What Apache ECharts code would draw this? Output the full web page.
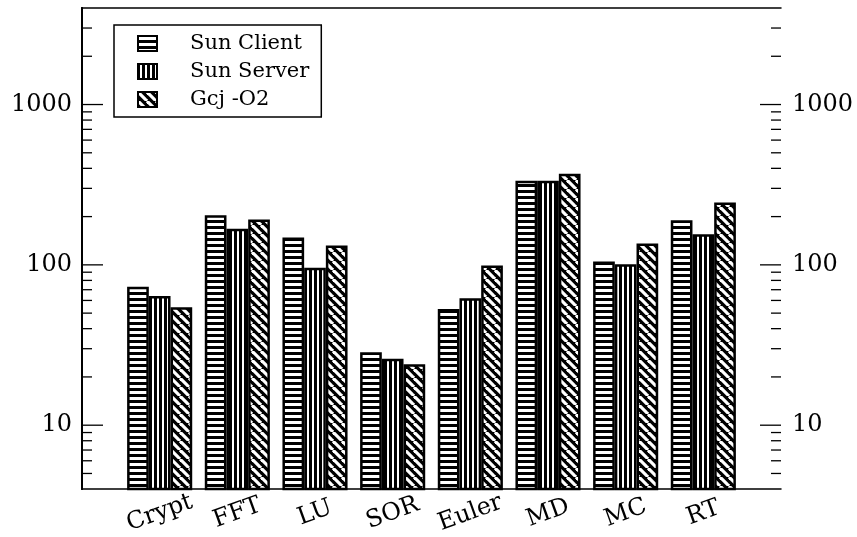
<!DOCTYPE html>
<html>
<head>
<meta charset="utf-8">
<script src="https://cdn.jsdelivr.net/npm/echarts@6/dist/echarts.min.js"></script>
<style>html,body{margin:0;padding:0;background:#fff;}#c{width:857px;height:537px;}</style>
</head>
<body>
<div id="c"></div>
<script>
// ---- data ----
const categories = ['Crypt', 'FFT', 'LU', 'SOR', 'Euler', 'MD', 'MC', 'RT'];
const sunClient = [73, 204, 148, 28.5, 53, 335, 105, 190];
const sunServer = [64, 168, 96, 26, 62, 335, 101, 155];
const gcjO2 = [54.5, 192, 132, 24, 99, 370, 136, 245];
const seriesNames = ['Sun Client', 'Sun Server', 'Gcj -O2'];
const majorTicks = [10, 100, 1000];
const minorTicks = [5, 6, 7, 8, 9, 20, 30, 40, 50, 60, 70, 80, 90, 200, 300, 400, 500, 600, 700, 800, 900, 2000, 3000];
const yLabels = ['10', '100', '1000'];

// ---- patterns ----
function pattern(kind) {
  const c = document.createElement('canvas');
  const ctx = c.getContext('2d');
  if (kind === 'h') {
    c.width = 6; c.height = 6;
    ctx.fillStyle = '#000'; ctx.fillRect(0, 0, 6, 6);
    ctx.fillStyle = '#fff'; ctx.fillRect(0, 1, 6, 3);
  } else if (kind === 'v') {
    c.width = 5; c.height = 5;
    ctx.fillStyle = '#000'; ctx.fillRect(0, 0, 5, 5);
    ctx.fillStyle = '#fff'; ctx.fillRect(2, 0, 2, 5);
  } else {
    c.width = 9; c.height = 9;
    ctx.fillStyle = '#000'; ctx.fillRect(0, 0, 9, 9);
    ctx.strokeStyle = '#fff'; ctx.lineWidth = 3.2;
    for (let k = -1; k <= 1; k++) {
      ctx.beginPath(); ctx.moveTo(k * 9, 0); ctx.lineTo(k * 9 + 9, 9); ctx.stroke();
    }
  }
  return { image: c, repeat: 'repeat' };
}

const FONT = 'DejaVu Serif';
const gridLeft = 82, gridTop = 8, gridW = 699, gridH = 481;
const slot = gridW / 9;

const tickData = majorTicks.map(v => [0, v, 1]).concat(minorTicks.map(v => [0, v, 0]));

const chart = echarts.init(document.getElementById('c'), null, { renderer: 'canvas' });
const barCommon = {
  type: 'bar', xAxisIndex: 2, yAxisIndex: 2, barWidth: 21.7, barGap: '0%',
  silent: true, clip: true
};
const yLabelFmt = v => { const s = String(Math.round(v)); return yLabels.indexOf(s) >= 0 ? s : ''; };
chart.setOption({
  animation: false,
  backgroundColor: '#fff',
  grid: [
    { left: gridLeft, top: gridTop, width: gridW, height: gridH },
    { left: gridLeft + slot / 2, top: gridTop, width: gridW - slot, height: gridH }
  ],
  legend: {
    orient: 'vertical', left: 114, top: 25,
    data: seriesNames.map(n => ({ name: n, icon: 'rect' })),
    itemWidth: 19, itemHeight: 15, itemGap: 7,
    padding: [8, 12, 7, 23],
    borderColor: '#000', borderWidth: 1.5,
    backgroundColor: '#fff',
    textStyle: { fontFamily: FONT, fontSize: 21, color: '#000', lineHeight: 20, padding: [0, 0, 0, 28] },
    selectedMode: false
  },
  xAxis: [
    { type: 'value', gridIndex: 0, min: 0, max: 9, position: 'bottom',
      axisLine: { show: true, lineStyle: { color: '#000', width: 1.5 } },
      axisTick: { show: false }, axisLabel: { show: false }, splitLine: { show: false } },
    { type: 'value', gridIndex: 0, min: 0, max: 9, position: 'top',
      axisLine: { show: true, lineStyle: { color: '#000', width: 1.5 } },
      axisTick: { show: false }, axisLabel: { show: false }, splitLine: { show: false } },
    { type: 'category', gridIndex: 1, data: categories, boundaryGap: true,
      axisLine: { show: false }, axisTick: { show: false }, splitLine: { show: false },
      axisLabel: { fontFamily: FONT, fontSize: 24, color: '#000', rotate: 20,
        align: 'center', verticalAlign: 'middle', margin: 24, interval: 0 } }
  ],
  yAxis: [
    { type: 'log', gridIndex: 0, logBase: 10, min: 4, max: 4000, position: 'left',
      axisLine: { show: true, lineStyle: { color: '#000', width: 2 } },
      axisTick: { show: false }, splitLine: { show: false }, minorTick: { show: false },
      axisLabel: { fontFamily: FONT, fontSize: 24, color: '#000', margin: 10,
        showMinLabel: false, showMaxLabel: false, formatter: yLabelFmt } },
    { type: 'log', gridIndex: 0, logBase: 10, min: 4, max: 4000, position: 'right',
      axisLine: { show: true, lineStyle: { color: '#000', width: 2 } },
      axisTick: { show: false }, splitLine: { show: false }, minorTick: { show: false },
      axisLabel: { fontFamily: FONT, fontSize: 24, color: '#000', margin: 11,
        showMinLabel: false, showMaxLabel: false, formatter: yLabelFmt } },
    { type: 'log', gridIndex: 1, logBase: 10, min: 4, max: 4000, show: false }
  ],
  series: [
    Object.assign({ name: seriesNames[0], data: sunClient,
      itemStyle: { color: pattern('h'), borderColor: '#000', borderWidth: 2.5 } }, barCommon),
    Object.assign({ name: seriesNames[1], data: sunServer,
      itemStyle: { color: pattern('v'), borderColor: '#000', borderWidth: 2.5 } }, barCommon),
    Object.assign({ name: seriesNames[2], data: gcjO2,
      itemStyle: { color: pattern('d'), borderColor: '#000', borderWidth: 2.5 } }, barCommon),
    {
      type: 'custom', xAxisIndex: 0, yAxisIndex: 0, silent: true, clip: false, z: 5,
      data: tickData,
      encode: { x: 0, y: 1 },
      renderItem: function (params, api) {
        const v = api.value(1), major = api.value(2);
        const p = api.coord([0, v]), q = api.coord([9, v]);
        const len = major ? 21 : 10;
        const st = { stroke: '#000', lineWidth: 1.3 };
        return { type: 'group', children: [
          { type: 'line', shape: { x1: p[0], y1: p[1], x2: p[0] + len, y2: p[1] }, style: st },
          { type: 'line', shape: { x1: q[0], y1: q[1], x2: q[0] - len, y2: q[1] }, style: st }
        ] };
      }
    }
  ]
});
</script>
</body>
</html>
